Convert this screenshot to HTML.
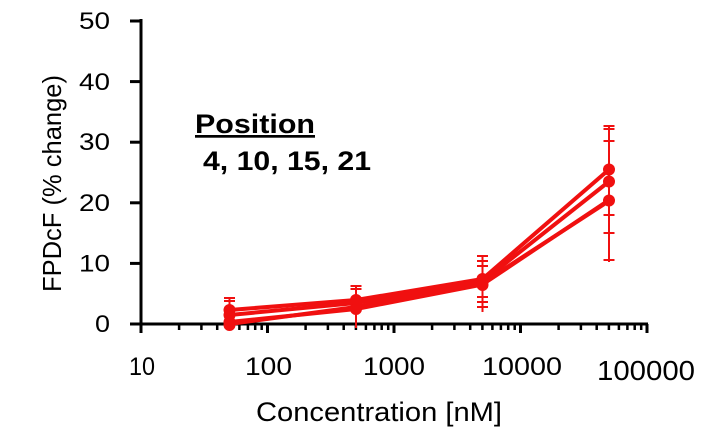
<!DOCTYPE html>
<html><head><style>body{margin:0;background:#fff}</style></head><body>
<svg width="720" height="440" xmlns="http://www.w3.org/2000/svg" font-family="Liberation Sans, Arial, sans-serif">
<rect width="720" height="440" fill="#fff"/>
<g stroke="#000" stroke-width="3" fill="none">
<line x1="141" y1="19" x2="141" y2="332"/>
<line x1="139" y1="324" x2="648" y2="324"/>
<line x1="130" y1="324" x2="141" y2="324"/>
<line x1="130" y1="263.4" x2="141" y2="263.4"/>
<line x1="130" y1="202.8" x2="141" y2="202.8"/>
<line x1="130" y1="142.2" x2="141" y2="142.2"/>
<line x1="130" y1="81.6" x2="141" y2="81.6"/>
<line x1="130" y1="21" x2="141" y2="21"/>
<path d="M141 324v9M267.5 324v9M394 324v9M520.5 324v9M647 324v9"/>
</g>
<g stroke="#000" stroke-width="2.5">
<path d="M179.1 324v6M201.4 324v6M217.2 324v6M229.4 324v6M239.4 324v6M247.9 324v6M255.2 324v6M261.7 324v6
M305.6 324v6M327.9 324v6M343.7 324v6M355.9 324v6M365.9 324v6M374.4 324v6M381.7 324v6M388.2 324v6
M432.1 324v6M454.4 324v6M470.2 324v6M482.4 324v6M492.4 324v6M500.9 324v6M508.2 324v6M514.7 324v6
M558.6 324v6M580.9 324v6M596.7 324v6M608.9 324v6M618.9 324v6M627.4 324v6M634.7 324v6M641.2 324v6"/>
</g>
<g font-size="24" fill="#000" text-anchor="end">
<text x="110" y="332" textLength="15" lengthAdjust="spacingAndGlyphs">0</text>
<text x="110" y="271.5" textLength="31" lengthAdjust="spacingAndGlyphs">10</text>
<text x="110" y="211" textLength="31" lengthAdjust="spacingAndGlyphs">20</text>
<text x="110" y="150" textLength="31" lengthAdjust="spacingAndGlyphs">30</text>
<text x="110" y="90" textLength="31" lengthAdjust="spacingAndGlyphs">40</text>
<text x="110" y="29" textLength="31" lengthAdjust="spacingAndGlyphs">50</text>
</g>
<g font-size="25" fill="#000">
<text x="129" y="375" textLength="26" lengthAdjust="spacingAndGlyphs">10</text>
<text x="245" y="375" textLength="47" lengthAdjust="spacingAndGlyphs">100</text>
<text x="363" y="375" textLength="62" lengthAdjust="spacingAndGlyphs">1000</text>
<text x="482" y="375" textLength="80" lengthAdjust="spacingAndGlyphs">10000</text>
<text x="597" y="380" font-size="28" textLength="98" lengthAdjust="spacingAndGlyphs">100000</text>
<text x="256" y="421" font-size="27" textLength="246" lengthAdjust="spacingAndGlyphs">Concentration [nM]</text>
<text transform="translate(61,292) rotate(-90)" font-size="26" textLength="217" lengthAdjust="spacingAndGlyphs">FPDcF (% change)</text>
</g>
<text x="195" y="133" font-size="27" font-weight="bold" text-decoration="underline" textLength="120" lengthAdjust="spacingAndGlyphs">Position</text>
<text x="203" y="170" font-size="27" font-weight="bold" textLength="168" lengthAdjust="spacingAndGlyphs">4, 10, 15, 21</text>
<g stroke="#f01010" stroke-width="2">
<path d="M229.5 298v28M224 298h11M224 301h11
M356 286v42M350.5 286h11M350.5 289h11
M482.5 256v56M477 256h11M477 261h11M477 266h11M477 297h11M477 302h11M477 307h11
M609 126v136M603.5 126h11M603.5 129h11M603.5 141h11M603.5 215h11M603.5 233h11M603.5 260h11"/>
</g>
<g stroke="#f01010" stroke-width="4" fill="none" stroke-linejoin="round">
<polyline points="229.5,310 356,300 482.5,279 609,169.5"/>
<polyline points="229.5,315 356,303 482.5,281.5 609,181.5"/>
<polyline points="229.5,322 356,309 482.5,284.5 609,200"/>
<polyline points="229.5,324 356,307 482.5,283 609,201"/>
</g>
<g fill="#f01010">
<circle cx="229.5" cy="310" r="6"/><circle cx="229.5" cy="315" r="6"/><circle cx="229.5" cy="322" r="6"/><circle cx="229.5" cy="325" r="6"/>
<circle cx="356" cy="300" r="6"/><circle cx="356" cy="303" r="6"/><circle cx="356" cy="309" r="6"/>
<circle cx="482.5" cy="279" r="6"/><circle cx="482.5" cy="282" r="6"/><circle cx="482.5" cy="285" r="6"/>
<circle cx="609" cy="169.5" r="6"/><circle cx="609" cy="181.5" r="6"/><circle cx="609" cy="200.5" r="6"/>
</g>
</svg>
</body></html>
